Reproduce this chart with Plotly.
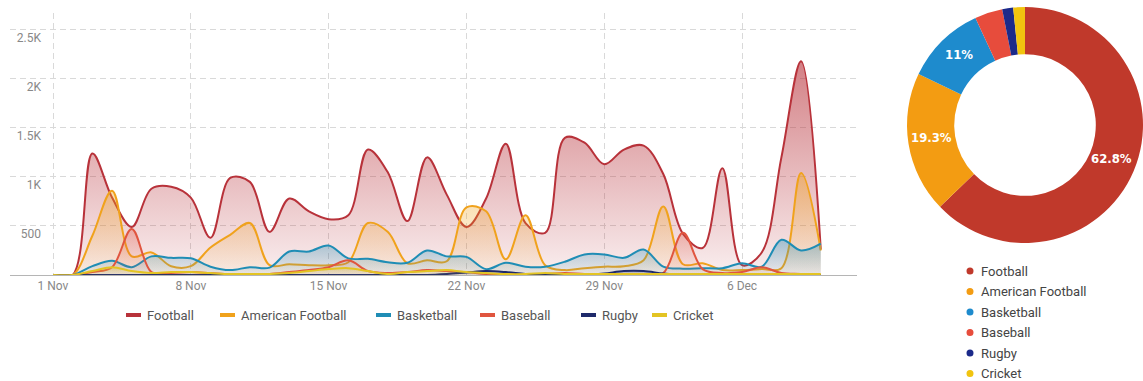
import math
import datetime as dt
import plotly.graph_objects as go

W, H = 1143, 381

# ---- data -------------------------------------------------------------
start = dt.date(2024, 11, 1)
days = [start + dt.timedelta(days=i) for i in range(40)]

sports = ["Football", "American Football", "Basketball", "Baseball", "Rugby", "Cricket"]

football = [0, 0, 1240, 790, 490, 880, 900, 790, 380, 990,
            950, 440, 780, 650, 570, 610, 1280, 1050, 550, 1200,
            820, 490, 780, 1340, 530, 430, 1400, 1350, 1130, 1280,
            1320, 1030, 420, 275, 1090, 100, 230, 1200, 2180, 260]
american_football = [0, 0, 400, 860, 190, 230, 90, 90, 280, 410,
                     530, 100, 110, 100, 100, 130, 530, 440, 120, 150,
                     140, 690, 650, 160, 610, 100, 50, 70, 85, 90,
                     150, 700, 110, 120, 50, 50, 60, 70, 1040, 250]
basketball = [0, 0, 90, 145, 80, 190, 175, 170, 85, 50,
              80, 75, 240, 240, 300, 170, 165, 130, 125, 250,
              190, 185, 60, 125, 85, 85, 135, 210, 210, 175,
              260, 85, 65, 70, 70, 120, 85, 360, 250, 320]
baseball = [0, 0, 30, 80, 470, 30, 20, 30, 20, 10,
            10, 10, 30, 50, 80, 150, 40, 20, 30, 50,
            40, 30, 10, 10, 10, 10, 20, 10, 10, 10,
            0, 20, 430, 60, 20, 30, 80, 20, 10, 0]
rugby = [0, 0, 0, 0, 0, 0, 0, 0, 0, 0,
         0, 0, 0, 0, 0, 0, 0, 0, 0, 0,
         10, 25, 40, 30, 10, 0, 0, 0, 15, 40,
         40, 15, 0, 0, 0, 0, 0, 0, 0, 0]
cricket = [0, 0, 40, 80, 40, 20, 30, 30, 20, 10,
           10, 10, 20, 40, 60, 70, 40, 10, 30, 40,
           50, 30, 20, 10, 10, 20, 10, 10, 10, 10,
           10, 10, 10, 10, 10, 10, 10, 10, 10, 10]

share_pct = [62.8, 19.3, 11.0, 3.8, 1.5, 1.6]

y_tick_vals = [500, 1000, 1500, 2000, 2500]
y_tick_text = ["500", "1K", "1.5K", "2K", "2.5K"]

# ---- styling ----------------------------------------------------------
line_colors = ["#b8323a", "#f0a21c", "#1f8db5", "#e0553f", "#1f2a6b", "#e3c423"]
pie_colors = ["#c0392b", "#f39c12", "#1e8bcd", "#e74c3c", "#1b2a8a", "#f1c40f"]
fill_alpha = [(0.08, 0.62), (0.05, 0.45), (0.06, 0.38), (0.04, 0.35), (0.04, 0.35), (0.04, 0.35)]
FONT = "Roboto, Arial, sans-serif"
PIE_FONT = "DejaVu Sans Condensed, Liberation Sans Narrow, sans-serif"
Y_MAX = 2673

# donut geometry (pixels)
PIE_LEFT, PIE_RIGHT, PIE_TOP, PIE_BOTTOM = 907, 1143, 6, 244
HOLE = 0.6


def px(x):
    return x / W


def py(y):
    return 1 - y / H


def rgba(hex_color, a):
    h = hex_color.lstrip("#")
    r, g, b = int(h[0:2], 16), int(h[2:4], 16), int(h[4:6], 16)
    return f"rgba({r},{g},{b},{a})"


fig = go.Figure()

series = [football, american_football, basketball, baseball, rugby, cricket]
for i, (name, vals, col, (a0, a1)) in enumerate(zip(sports, series, line_colors, fill_alpha)):
    fig.add_trace(go.Scatter(
        x=days, y=vals, name=name, mode="lines",
        line=dict(color=col, width=2, shape="spline", smoothing=1),
        fill="tozeroy",
        fillgradient=dict(type="vertical",
                          colorscale=[[0, rgba(col, a0)], [1, rgba(col, a1)]],
                          start=0, stop=max(vals)),
        showlegend=False, hoverinfo="skip",
        # the last series carries the labelled value axis
        yaxis="y2" if i == len(series) - 1 else "y",
    ))

fig.add_trace(go.Pie(
    labels=sports, values=share_pct, sort=False, direction="clockwise",
    rotation=0, hole=HOLE, marker=dict(colors=pie_colors),
    textinfo="none",
    domain=dict(x=[px(PIE_LEFT), px(PIE_RIGHT)], y=[py(PIE_BOTTOM), py(PIE_TOP)]),
    showlegend=False, hoverinfo="skip",
))

shapes, annotations = [], []

# percentage labels centred in the ring at each slice's mid-angle
cx = (PIE_LEFT + PIE_RIGHT) / 2
cy = (PIE_TOP + PIE_BOTTOM) / 2
R = min(PIE_RIGHT - PIE_LEFT, PIE_BOTTOM - PIE_TOP) / 2
r_mid = R * (1 + HOLE) / 2
total = sum(share_pct)
cum = 0.0
for v in share_pct:
    theta = 2 * math.pi * (cum + v / 2) / total
    cum += v
    if v < 5:
        continue
    annotations.append(dict(
        text=f"{v:g}%", xref="paper", yref="paper",
        x=px(cx + r_mid * math.sin(theta)), y=py(cy - r_mid * math.cos(theta) - 3),
        xanchor="center", yanchor="middle", showarrow=False,
        font=dict(family=PIE_FONT, size=13, color="white", weight="bold")))

# legends (drawn as shapes + text)
legend_x = [126, 220, 376, 480, 581, 652]
for name, col, x0 in zip(sports, line_colors, legend_x):
    shapes.append(dict(type="rect", xref="paper", yref="paper",
                       x0=px(x0), x1=px(x0 + 15), y0=py(317), y1=py(313),
                       fillcolor=col, line=dict(width=0)))
    annotations.append(dict(text=name, xref="paper", yref="paper",
                            x=px(x0 + 19), y=py(315), xanchor="left", yanchor="middle",
                            showarrow=False, font=dict(family=FONT, size=13, color="#555555")))

for i, (name, col) in enumerate(zip(sports, pie_colors)):
    yc = 271 + i * 20.5
    shapes.append(dict(type="circle", xref="paper", yref="paper",
                       x0=px(966.5), x1=px(973.5), y0=py(yc + 3.5), y1=py(yc - 3.5),
                       fillcolor=col, line=dict(width=0)))
    annotations.append(dict(text=name, xref="paper", yref="paper",
                            x=px(979), y=py(yc), xanchor="left", yanchor="middle",
                            showarrow=False, font=dict(family=FONT, size=13, color="#444444")))

t0 = dt.datetime(2024, 11, 1)
x_range = [t0 + dt.timedelta(days=-2.184), t0 + dt.timedelta(days=40.84)]

fig.update_layout(
    template="none",
    width=W, height=H, autosize=False,
    margin=dict(l=0, r=0, t=0, b=0, pad=0),
    paper_bgcolor="white", plot_bgcolor="white",
    font=dict(family=FONT, size=12, color="#888888"),
    shapes=shapes, annotations=annotations,
    xaxis=dict(domain=[px(10), px(857)], range=x_range, type="date",
               tick0="2024-11-01", dtick=7 * 86400000, tickformat="%-d %b",
               showgrid=True, gridcolor="#d9d9d9", griddash="6px,4px", gridwidth=1,
               showline=True, linecolor="#b5b5b5", linewidth=1,
               ticks="", zeroline=False, automargin=False,
               tickfont=dict(family=FONT, size=12, color="#888888")),
    yaxis=dict(domain=[py(275), py(13)], range=[0, Y_MAX],
               tickvals=y_tick_vals, showticklabels=False,
               showgrid=True, gridcolor="#d9d9d9", griddash="6px,4px", gridwidth=1,
               zeroline=False, showline=False, ticks="", automargin=False),
    yaxis2=dict(overlaying="y", anchor="free", position=px(41), side="left",
                range=[0, Y_MAX], tickvals=y_tick_vals, ticktext=y_tick_text,
                showgrid=False, zeroline=False, showline=False, ticks="",
                ticklabelshift=8, automargin=False,
                tickfont=dict(family=FONT, size=12, color="#888888")),
)

fig.write_html("out.html")
